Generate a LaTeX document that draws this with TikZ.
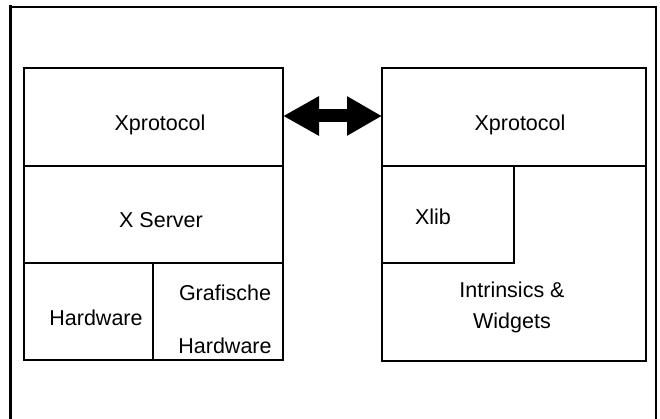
\documentclass[tikz,border=0pt]{standalone}
\usepackage{fontspec}
\setmainfont{Liberation Sans}
\usetikzlibrary{arrows.meta}
\tikzset{
  layer/.style={draw, line width=1.2pt, inner sep=0pt, outer sep=0pt, anchor=north west},
  lbl/.style={anchor=base, inner sep=0pt, font=\fontsize{21.5}{25}\selectfont},
  frameline/.style={line cap=rect},
  link/.style={line width=13pt, {Triangle[length=36pt,width=37pt]}-{Triangle[length=35pt,width=37pt]}}
}
\begin{document}
\begin{tikzpicture}[x=1pt,y=-1pt]
  \useasboundingbox (0,0) rectangle (660,419);
  % open frame around both stacks
  \draw[frameline, line width=3pt] (10,419) -- (10,7);
  \draw[frameline, line width=2pt] (10,7) -- (656,7);
  \draw[frameline, line width=1.6pt] (656,7) -- (656,419);

  % server side stack
  \node[layer, minimum width=259pt, minimum height=98pt] (lxp) at (24,68) {};
  \node[layer, minimum width=259pt, minimum height=97pt] (lxs) at (24,166) {};
  \node[layer, minimum width=129pt, minimum height=97pt] (lhw) at (24,263) {};
  \node[layer, minimum width=130pt, minimum height=97pt] (lgh) at (153,263) {};

  % client side stack
  \node[layer, minimum width=264pt, minimum height=98pt] (rxp) at (382,68) {};
  \node[layer, minimum width=264pt, minimum height=195pt] (riw) at (382,166) {};
  \node[layer, minimum width=132pt, minimum height=97pt] (rxl) at (382,166) {};

  % labels
  \node[lbl] (txp1) at (160,131) {Xprotocol};
  \node[lbl] (txs) at (161,228) {X Server};
  \node[lbl] (thw) at (96,325) {Hardware};
  \node[lbl] (tgr) at (225,300) {Grafische};
  \node[lbl] (tgh) at (225,353) {Hardware};
  \node[lbl] (txp2) at (520,131) {Xprotocol};
  \node[lbl] (txl) at (433,225) {Xlib};
  \node[lbl] (tin) at (512,297) {Intrinsics \&};
  \node[lbl] (twd) at (512,328) {Widgets};

  % protocol exchange
  \draw[link] ([yshift=1pt]lxp.east) -- ([yshift=1pt]rxp.west);
\end{tikzpicture}
\end{document}
